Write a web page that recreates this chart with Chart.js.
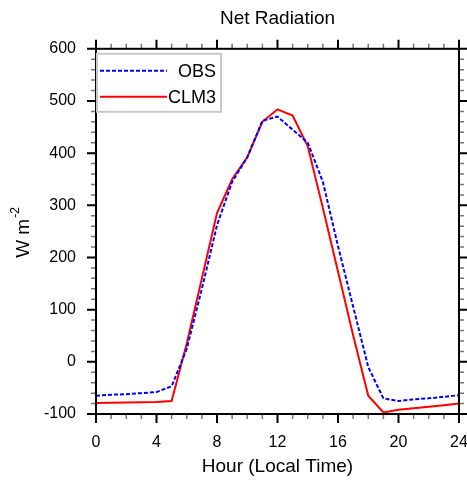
<!DOCTYPE html>
<html>
<head>
<meta charset="utf-8">
<title>Net Radiation</title>
<script src="https://cdn.jsdelivr.net/npm/chart.js@4.4.0/dist/chart.umd.min.js"></script>
<style>
  html, body { margin: 0; padding: 0; background: #fff; }
  #wrap { width: 467px; height: 481px; }
</style>
</head>
<body>
<div id="wrap"><canvas id="netrad"></canvas></div>
<script>
// Horas (eixo x) e valores
var horas = [0, 1, 2, 3, 4, 5, 6, 7, 8, 9, 10, 11, 12, 13, 14, 15, 16, 17, 18, 19, 20, 21, 22, 23, 24];
var obs = [-65, -63, -62, -60, -58, -47, 25, 140, 262, 345, 392, 462, 470, 445, 420, 345, 222, 106, -10, -70, -75, -72, -70, -67, -64];
var clm3 = [-79, -78.5, -78, -77.5, -77, -75, 35, 160, 285, 350, 392, 460, 484, 472, 413, 295, 173, 51, -65, -97, -92, -89, -86, -83, -80];
var nomesSeries = ['OBS', 'CLM3'];

var fonte = '"Liberation Sans", Arial, Helvetica, sans-serif';

function pontos(valores) {
  var out = [];
  for (var i = 0; i < horas.length; i++) {
    out.push({ x: horas[i], y: valores[i] });
  }
  return out;
}

// Moldura, marcas de escala (maiores e menores), título do eixo y e legenda
var molduraPlugin = {
  id: 'moldura',
  afterDatasetsDraw: function(chart) {
    var c = chart.ctx;
    var a = chart.chartArea;
    var sx = chart.scales.x;
    var sy = chart.scales.y;
    var v, p, len;

    c.save();
    c.strokeStyle = '#000';

    // marcas no eixo x (baixo e topo)
    for (v = 0; v <= 24; v += 1) {
      p = sx.getPixelForValue(v);
      len = (v % 4 === 0) ? 9 : 5;
      c.lineWidth = (v % 4 === 0) ? 2 : 1.5;
      c.strokeStyle = (v % 4 === 0) ? '#000' : '#777';
      c.beginPath();
      c.moveTo(p, a.bottom); c.lineTo(p, a.bottom + len);
      c.moveTo(p, a.top); c.lineTo(p, a.top - len);
      c.stroke();
    }
    // marcas no eixo y (esquerda e direita)
    for (v = -100; v <= 600; v += 20) {
      p = sy.getPixelForValue(v);
      len = (v % 100 === 0) ? 9 : 5;
      c.lineWidth = (v % 100 === 0) ? 2 : 1.5;
      c.strokeStyle = (v % 100 === 0) ? '#000' : '#777';
      c.beginPath();
      c.moveTo(a.left, p); c.lineTo(a.left - len, p);
      c.moveTo(a.right, p); c.lineTo(a.right + len, p);
      c.stroke();
    }

    // moldura
    c.strokeStyle = '#000';
    c.lineWidth = 2;
    c.strokeRect(a.left, a.top, a.right - a.left, a.bottom - a.top);

    // título do eixo y: W m^-2
    c.translate(29, 233);
    c.rotate(-Math.PI / 2);
    c.fillStyle = '#000';
    c.textBaseline = 'alphabetic';
    c.textAlign = 'left';
    c.font = '19px ' + fonte;
    var t1 = 'W m';
    var w1 = c.measureText(t1).width;
    c.font = '12px ' + fonte;
    var w2 = c.measureText('-2').width;
    var x0 = -(w1 + w2) / 2;
    c.font = '19px ' + fonte;
    c.fillText(t1, x0, 0);
    c.font = '12px ' + fonte;
    c.fillText('-2', x0 + w1 + 1, -10);
    c.restore();

    // legenda
    c.save();
    var bx = a.left + 1, by = a.top + 5, bw = 124, bh = 58;
    c.fillStyle = '#fff';
    c.fillRect(bx, by, bw, bh);
    c.strokeStyle = '#c8c8c8';
    c.lineWidth = 2;
    c.strokeRect(bx, by, bw, bh);
    c.font = '18px ' + fonte;
    c.textAlign = 'right';
    c.textBaseline = 'middle';
    chart.data.datasets.forEach(function(ds, i) {
      var ly = by + 17 + i * 26;
      c.strokeStyle = ds.borderColor;
      c.lineWidth = ds.borderWidth;
      c.setLineDash(ds.borderDash || []);
      c.beginPath();
      c.moveTo(bx + 3, ly);
      c.lineTo(bx + 70, ly);
      c.stroke();
      c.setLineDash([]);
      c.fillStyle = '#000';
      c.fillText(ds.label, bx + bw - 5, ly + 1);
    });
    c.restore();
  }
};

var ctx = document.getElementById('netrad').getContext('2d');

var grafico = new Chart(ctx, {
  type: 'line',
  data: {
    datasets: [{
      label: nomesSeries[0],
      data: pontos(obs),
      borderColor: '#0000ff',
      borderWidth: 2,
      borderDash: [4, 2],
      pointRadius: 0,
      fill: false,
      tension: 0
    }, {
      label: nomesSeries[1],
      data: pontos(clm3),
      borderColor: '#ff0000',
      borderWidth: 2,
      pointRadius: 0,
      fill: false,
      tension: 0
    }]
  },
  options: {
    responsive: true,
    maintainAspectRatio: false,
    animation: false,
    layout: { padding: { left: 0, right: 8, top: 0, bottom: 0 } },
    plugins: {
      legend: { display: false },
      tooltip: { enabled: false },
      title: {
        display: true,
        text: 'Net Radiation',
        fullSize: false,
        color: '#000',
        font: { family: fonte, size: 19, weight: 'normal' },
        padding: { top: 7, bottom: 19 }
      }
    },
    scales: {
      x: {
        type: 'linear',
        position: 'bottom',
        min: 0,
        max: 24,
        afterFit: function(scale) {
          scale.height = 67;
          scale.paddingLeft = 0;
          scale.paddingRight = 0;
        },
        ticks: {
          stepSize: 4,
          color: '#000',
          padding: 19,
          maxRotation: 0,
          font: { family: fonte, size: 16 }
        },
        grid: { display: true, drawOnChartArea: false, drawTicks: false },
        border: { display: false },
        title: {
          display: true,
          text: 'Hour (Local Time)',
          color: '#000',
          font: { family: fonte, size: 19 },
          padding: { top: 0, bottom: 3 }
        }
      },
      y: {
        type: 'linear',
        position: 'left',
        min: -100,
        max: 600,
        afterFit: function(scale) { scale.width = 96; },
        ticks: {
          stepSize: 100,
          color: '#000',
          padding: 20,
          font: { family: fonte, size: 16 }
        },
        grid: { display: true, drawOnChartArea: false, drawTicks: false },
        border: { display: false }
      }
    }
  },
  plugins: [molduraPlugin]
});
</script>
</body>
</html>
